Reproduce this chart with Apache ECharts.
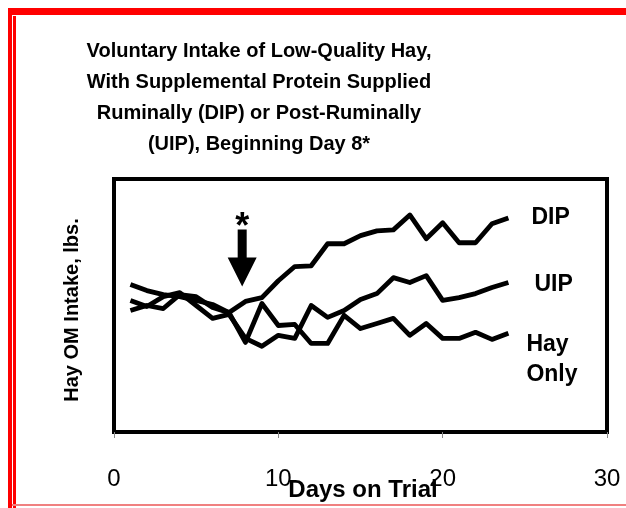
<!DOCTYPE html>
<html><head><meta charset="utf-8">
<script src="https://cdn.jsdelivr.net/npm/echarts@6/dist/echarts.min.js"></script>
<style>html,body{margin:0;padding:0;background:#fff}#c{width:626px;height:508px}</style>
</head><body><div id="c"></div>
<script>
// ---- data ----
const days = [1,2,3,4,5,6,7,8,9,10,11,12,13,14,15,16,17,18,19,20,21,22,23,24];
const dipValues = [5.83,5.59,5.43,5.35,5.20,5.04,4.72,5.16,5.31,5.98,6.54,6.57,7.44,7.44,7.76,7.95,7.99,8.58,7.64,8.27,7.48,7.48,8.23,8.46];
const uipValues = [5.20,4.96,5.35,5.51,5.00,4.49,4.65,3.70,3.39,3.82,3.70,5.00,4.53,4.80,5.24,5.47,6.10,5.91,6.18,5.20,5.31,5.47,5.71,5.91];
const hayValues = [4.80,5.00,4.88,5.43,5.35,4.92,4.72,3.54,5.08,4.21,4.25,3.50,3.50,4.61,4.09,4.29,4.49,3.82,4.29,3.70,3.70,3.94,3.66,3.90];
const seriesNames = ['DIP','UIP','Hay Only'];
const seriesLabels = ['DIP','UIP','Hay\nOnly'];
const xTicks = [0,10,20,30];
const titleLines = ['Voluntary Intake of Low-Quality Hay,','With Supplemental Protein Supplied','Ruminally (DIP) or Post-Ruminally','(UIP), Beginning Day 8*'];
const xName = 'Days on Trial';
const yName = 'Hay OM Intake, lbs.';
const arrowDay = 7.8;

const FONT = '"Liberation Sans", Arial, sans-serif';
const chart = echarts.init(document.getElementById('c'), null, {renderer:'canvas'});

const allValues = [dipValues, uipValues, hayValues];
const labelOffsets = [[0,0],[0,2],[0,26]];
const labelDist = [23,26,18];

const series = allValues.map((vals, i) => ({
  name: seriesNames[i],
  type: 'line',
  data: days.map((d, j) => [d, vals[j]]),
  showSymbol: false,
  symbol: 'none',
  lineStyle: {color: '#000', width: 4.8, join: 'round'},
  itemStyle: {color: '#000'},
  endLabel: {
    show: true,
    formatter: () => seriesLabels[i],
    color: '#000',
    fontFamily: FONT,
    fontWeight: 'bold',
    fontSize: 23,
    lineHeight: 30,
    distance: labelDist[i],
    offset: labelOffsets[i],
    align: 'left'
  },
  animation: false,
  silent: true
}));

chart.setOption({
  animation: false,
  backgroundColor: '#fff',
  title: {
    text: titleLines.join('\n'),
    left: 254,
    top: 31,
    textAlign: 'center',
    textStyle: {fontFamily: FONT, fontWeight: 'bold', fontSize: 20, lineHeight: 31, color: '#000'}
  },
  grid: {left: 114, right: 19, top: 179, bottom: 76, show: true, borderColor: '#000', borderWidth: 4,
    backgroundColor: '#fff', containLabel: false, outerBoundsMode: 'none'},
  xAxis: {
    type: 'value', min: 0, max: 30, interval: 10,
    name: xName, nameLocation: 'middle', nameGap: 46, nameMoveOverlap: false,
    nameTextStyle: {fontFamily: FONT, fontWeight: 'bold', fontSize: 24, color: '#000', padding: [0, 0, 0, 5]},
    axisLine: {show: false},
    axisTick: {show: true, length: 6, inside: false, lineStyle: {color: '#888', width: 1}},
    axisLabel: {margin: 35, fontFamily: FONT, fontSize: 24, color: '#000',
      formatter: v => xTicks.includes(v) ? String(v) : ''},
    splitLine: {show: false}
  },
  yAxis: {
    type: 'value', min: 0, max: 10,
    axisLine: {show: false}, axisTick: {show: false}, axisLabel: {show: false}, splitLine: {show: false}
  },
  series: series
});

// arrow annotation pointing at day 8
const arrowTop = chart.convertToPixel({gridIndex: 0}, [arrowDay, 8.0]);
const arrowTip = chart.convertToPixel({gridIndex: 0}, [arrowDay, 5.75]);
const cx = arrowTop[0], headH = 29, shaftW = 4.5, headW = 14.5;
const baseY = arrowTip[1] - headH;
chart.setOption({
  graphic: [
    {type: 'polygon', shape: {points: [
      [cx - shaftW, arrowTop[1]], [cx + shaftW, arrowTop[1]], [cx + shaftW, baseY], [cx + headW, baseY],
      [cx, arrowTip[1]], [cx - headW, baseY], [cx - shaftW, baseY]]}, style: {fill: '#000'}, z: 100},
    {type: 'text', x: cx, y: arrowTop[1] + 16, style: {text: '*', fill: '#000', font: 'bold 36px ' + FONT, textAlign: 'center', textVerticalAlign: 'bottom'}, z: 100},
    // y axis title
    {type: 'text', x: 72, y: 310, rotation: Math.PI / 2, style: {text: yName, fill: '#000', font: 'bold 20px ' + FONT, textAlign: 'center', textVerticalAlign: 'middle'}, z: 100},
    // red page border
    {type: 'rect', shape: {x: 8, y: 8, width: 618, height: 7}, style: {fill: '#ff0000'}, z: 200},
    {type: 'rect', shape: {x: 8, y: 8, width: 4, height: 500}, style: {fill: '#ff0000'}, z: 200},
    {type: 'rect', shape: {x: 13, y: 16, width: 3, height: 492}, style: {fill: '#ff0000'}, z: 200},
    {type: 'rect', shape: {x: 12, y: 504, width: 614, height: 2}, style: {fill: '#f08080'}, z: 200}
  ]
});
</script>
</body></html>
